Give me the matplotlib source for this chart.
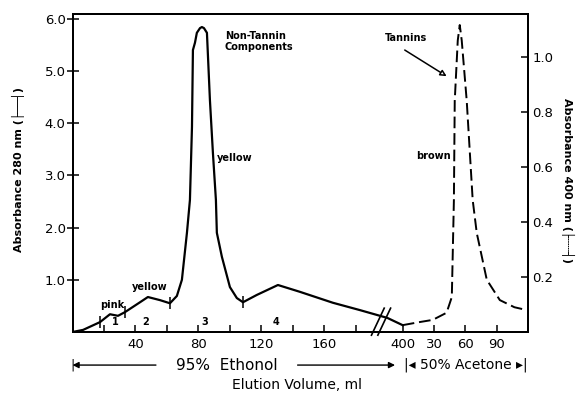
import numpy as np
import matplotlib
matplotlib.use('Agg')
import matplotlib.pyplot as plt

plt.rcParams['font.family'] = ['DejaVu Sans']

# 95% ethanol elution: volume (ml) vs absorbance at 280 nm
eth_ml = [0, 6.7, 17.5, 23.8, 28.9, 33.3, 42.9, 47.9, 55.6, 61.9, 66.3, 69.5,
          72.7, 74.6, 75.9, 76.5, 77.8, 79.0, 81.0, 82.2, 83.5, 85.4, 87.3,
          89.2, 91.1, 91.7, 94.9, 100.0, 104.4, 108.3, 117.1, 130.5, 144.4,
          165.4, 182.5, 200.0, 400.0]
abs280 = [0, 0.04, 0.19, 0.34, 0.31, 0.38, 0.57, 0.67, 0.61, 0.55, 0.69, 1.0,
          1.9, 2.53, 3.93, 5.4, 5.54, 5.73, 5.82, 5.84, 5.82, 5.73, 4.44,
          3.43, 2.53, 1.9, 1.44, 0.86, 0.65, 0.57, 0.71, 0.9, 0.77,
          0.56, 0.42, 0.27, 0.13]

# 50% acetone elution: volume (ml) vs absorbance at 400 nm
ace_ml = [0, 16, 28.7, 42, 47, 49, 49.8, 52.7, 54.6, 56.5, 61.3, 67, 70.9,
          80.5, 93, 107, 118.5]
abs400 = [0.025, 0.036, 0.044, 0.07, 0.127, 0.48, 0.84, 1.06, 1.116, 1.06,
          0.84, 0.48, 0.36, 0.19, 0.116, 0.09, 0.08]
ACE_START = 400  # acetone starts after 400 ml of ethanol

eth_ticks = [20, 40, 60, 80, 100, 120, 140, 160, 180]
eth_ticklabels = ['', '40', '', '80', '', '120', '', '160', '']
ace_ticks = [0, 30, 60, 90]
ace_ticklabels = ['400', '30', '60', '90']

y1_ticks = [1, 2, 3, 4, 5, 6]
y2_ticks = [0.2, 0.4, 0.6, 0.8, 1.0]

# fraction cuts (ml) and fraction numbers
cuts = [17.5, 33.3, 61.9, 108.3]
frac_names = ['1', '2', '3', '4']
frac_x = [27, 46.7, 84, 129]

# broken x axis: 200-400 ml squeezed, acetone on its own scale
XB = [-1000, 200, 400, 2000]
UB = [-1000, 200, 209.8, 209.8 + 1600 * 0.663]


def fwd(x):
    return np.interp(x, XB, UB)


def inv(u):
    return np.interp(u, UB, XB)


fig = plt.figure(figsize=(5.8, 3.98), dpi=100)
ax = fig.add_axes([72.5 / 580, 1 - 332 / 398, 455.5 / 580, 318 / 398])
ax.set_xscale('function', functions=(fwd, inv))
ax.set_xlim(0, ACE_START + 120)
ax.set_ylim(0, 6.09)
ax2 = ax.twinx()
ax2.set_ylim(0, 1.156)

ax.plot(eth_ml, abs280, color='k', lw=1.6, solid_joinstyle='round')
ace_x = [ACE_START + a for a in ace_ml]
ax2.plot(ace_x, abs400, color='k', lw=1.4, dashes=(6, 2.5))

# fraction cut marks on the curve
ax.plot(cuts, np.interp(cuts, eth_ml, abs280), '|', color='k', ms=9, mew=1.1)
for nm, fx in zip(frac_names, frac_x):
    ax.text(fx, 0.1, nm, fontsize=7, fontweight='bold', ha='center', va='bottom')

for s in ax.spines.values():
    s.set_linewidth(1.4)
for s in ax2.spines.values():
    s.set_linewidth(1.4)

ax.set_xticks(eth_ticks + [ACE_START + t for t in ace_ticks])
ax.set_xticklabels(eth_ticklabels + ace_ticklabels)
ax.tick_params(axis='x', direction='in', length=5, width=1.1, labelsize=9.5, pad=4)
ax.set_yticks(y1_ticks)
ax.set_yticklabels(['%.1f' % v for v in y1_ticks])
ax.tick_params(axis='y', direction='inout', length=8, width=1.1, labelsize=9.5, pad=1)
ax2.set_yticks(y2_ticks)
ax2.set_yticklabels(['%.1f' % v for v in y2_ticks])
ax2.tick_params(axis='y', direction='in', length=5, width=1.1, labelsize=9.5, pad=3)

# labels inside the plot
ax.text(25, 0.52, 'pink', fontsize=7, fontweight='bold', ha='center', va='center')
ax.text(49, 0.86, 'yellow', fontsize=7, fontweight='bold', ha='center', va='center')
ax.text(103, 3.33, 'yellow', fontsize=7, fontweight='bold', ha='center', va='center')
ax.text(96.8, 5.56, 'Non-Tannin\nComponents', fontsize=7, fontweight='bold',
        ha='left', va='center', linespacing=1.1)
ax2.text(198.4, 1.07, 'Tannins', fontsize=7, fontweight='bold', ha='left', va='center')
ax2.annotate('', xy=(ACE_START + 42, 0.93), xytext=(ACE_START + 1.9, 1.025),
             arrowprops=dict(arrowstyle='-|>', color='k', lw=1.1, mutation_scale=9,
                             fc='white', shrinkA=0, shrinkB=0))
ax2.text(ACE_START + 29, 0.64, 'brown', fontsize=7, fontweight='bold',
         ha='center', va='center')

# axis break marks
bx = ax.transAxes.inverted().transform(ax.transData.transform((196, 0)))[0]
for dx in (-0.007, 0.007):
    ax.plot([bx + dx - 0.014, bx + dx + 0.014], [-0.01, 0.075], color='k', lw=1.2,
            transform=ax.transAxes, clip_on=False)

# solvent ranges below the axis
tr = ax.get_xaxis_transform()
yb = -0.104
ax.annotate('', xy=(0, yb), xytext=(53, yb), xycoords=tr, textcoords=tr,
            arrowprops=dict(arrowstyle='-|>', color='k', lw=1.0, mutation_scale=9,
                            shrinkA=0, shrinkB=0))
ax.text(0, yb, '|', transform=tr, fontsize=9, ha='center', va='center')
ax.text(98, yb, '95%  Ethonol', transform=tr, fontsize=11, ha='center', va='center')
ax.annotate('', xy=(300, yb), xytext=(143, yb), xycoords=tr, textcoords=tr,
            arrowprops=dict(arrowstyle='-|>', color='k', lw=1.0, mutation_scale=9,
                            shrinkA=0, shrinkB=0))
ax.text(ACE_START + 60, yb, '|\u25c2 50% Acetone \u25b8|', transform=tr, fontsize=10,
        ha='center', va='center')

fig.text(297 / 580, 1 - 385 / 398, 'Elution Volume, ml', fontsize=10,
         ha='center', va='center')
fig.text(18 / 580, 1 - 170 / 398, 'Absorbance 280 nm (\u251c\u2500\u2500\u2524)',
         rotation=90, fontsize=8, fontweight='bold', ha='center', va='center')
fig.text(568 / 580, 1 - 180 / 398, 'Absorbance 400 nm (\u251c\u2504\u2504\u2524)',
         rotation=-90, fontsize=8, fontweight='bold', ha='center', va='center')

fig.savefig('out.png', dpi=100)
